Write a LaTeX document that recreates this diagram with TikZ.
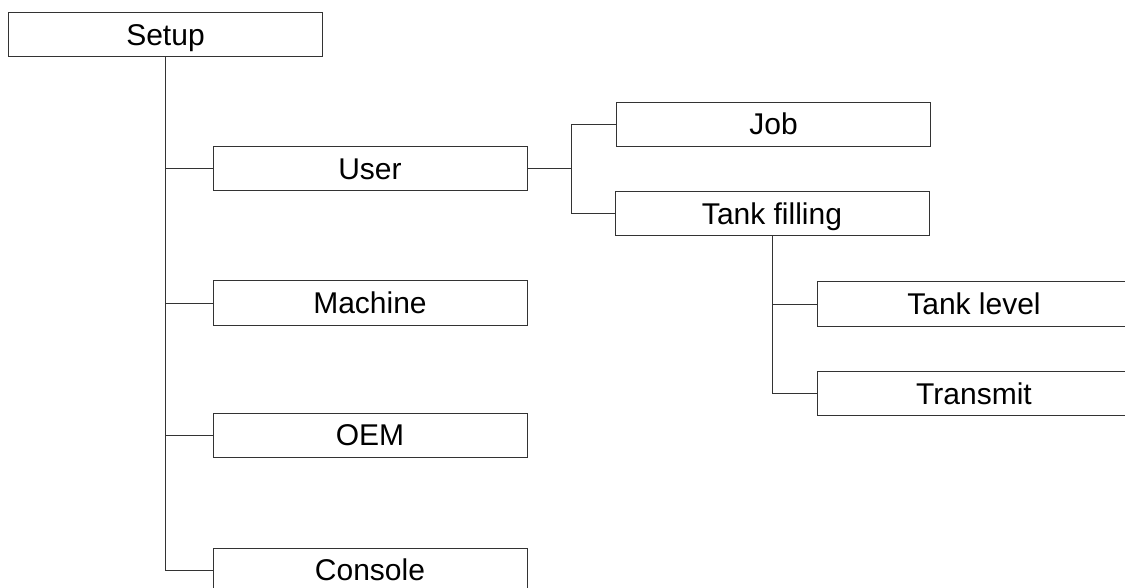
\documentclass[tikz,border=0pt]{standalone}
\usepackage{fontspec}
\setmainfont{Liberation Sans}
\usepackage{tikz}
\usetikzlibrary{positioning}

\begin{document}
\begin{tikzpicture}[x=1pt, y=-1pt,
  menubox/.style={rectangle, draw=black!80, line width=1pt, fill=white, minimum width=314pt, minimum height=44pt,
    font=\fontsize{30}{36}\selectfont, text height=21.5pt, text depth=0.5pt, inner sep=0pt},
  treeedge/.style={draw=black!80, line width=1pt}
]
\useasboundingbox (0,0) rectangle (1125,588);
\clip (0,0) rectangle (1125,588);

\node[menubox] (nsetup) at (165.5, 35) {Setup};
\node[menubox] (nuser) at (370, 169) {User};
\node[menubox] (nmachine) at (370, 303) {Machine};
\node[menubox] (noem) at (370, 435) {OEM};
\node[menubox] (nconsole) at (370, 570) {Console};
\node[menubox] (njob) at (773.5, 124.5) {Job};
\node[menubox] (ntank) at (772, 214) {Tank filling};
\node[menubox] (nlevel) at (974, 304) {Tank level};
\node[menubox] (ntransmit) at (974, 393.5) {Transmit};
\coordinate (fuser) at (571, 169);

\draw[treeedge] (nsetup.south) |- (nuser.west);
\draw[treeedge] (nsetup.south) |- (nmachine.west);
\draw[treeedge] (nsetup.south) |- (noem.west);
\draw[treeedge] (nsetup.south) |- (nconsole.west);
\draw[treeedge] (nuser.east) -- (fuser);
\draw[treeedge] (fuser) |- (njob.west);
\draw[treeedge] (fuser) |- (ntank.west);
\draw[treeedge] (ntank.south) |- (nlevel.west);
\draw[treeedge] (ntank.south) |- (ntransmit.west);

\end{tikzpicture}
\end{document}
